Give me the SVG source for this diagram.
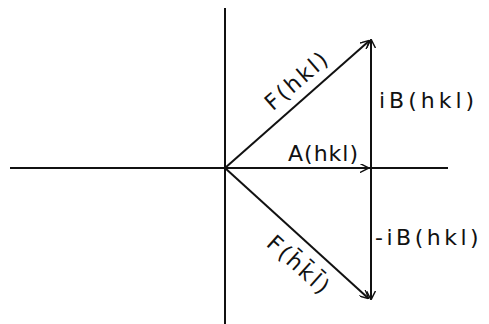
<svg xmlns="http://www.w3.org/2000/svg" width="489" height="324" viewBox="0 0 489 324">
<style>
.ax{stroke:#111;stroke-width:2;fill:none}
.vec{stroke:#111;stroke-width:2;fill:none;marker-end:url(#ah)}
.lbl{font-family:"DejaVu Sans","Liberation Sans",sans-serif;font-size:22px;fill:#111}
</style>
<defs>
<marker id="ah" viewBox="0 0 10 10" refX="9" refY="5" markerWidth="9" markerHeight="9" markerUnits="userSpaceOnUse" orient="auto">
<path d="M0,0 L10,5 L0,10" fill="none" stroke="#111" stroke-width="1.6"/>
</marker>
</defs>
<rect width="489" height="324" fill="#fff"/>
<g id="connectors">
<line class="ax" x1="10" y1="168" x2="448" y2="168"/>
<line class="ax" x1="225" y1="8" x2="225" y2="324"/>
<line class="vec" x1="225" y1="168" x2="369" y2="41"/>
<line class="vec" x1="225" y1="168" x2="368" y2="168"/>
<line class="vec" x1="371" y1="168" x2="371" y2="40"/>
<line class="vec" x1="371" y1="168" x2="371" y2="299"/>
<line class="vec" x1="225" y1="168" x2="368" y2="298"/>
</g>
<g id="F_hkl"><text class="lbl" transform="translate(302,86) rotate(-41)" text-anchor="middle" letter-spacing="2.5">F(hkl)</text></g>
<g id="iB_hkl"><text class="lbl" x="379" y="108" letter-spacing="4">iB(hkl)</text></g>
<g id="A_hkl"><text class="lbl" x="288" y="161" font-size="20" letter-spacing="1">A(hkl)</text></g>
<g id="minus_iB_hkl"><text class="lbl" x="375" y="245" letter-spacing="3.5">-iB(hkl)</text></g>
<g id="F_hkl_bar"><text class="lbl" transform="translate(294,271) rotate(42)" text-anchor="middle" letter-spacing="2.5">F(h̄k̄l̄)</text></g>
</svg>
